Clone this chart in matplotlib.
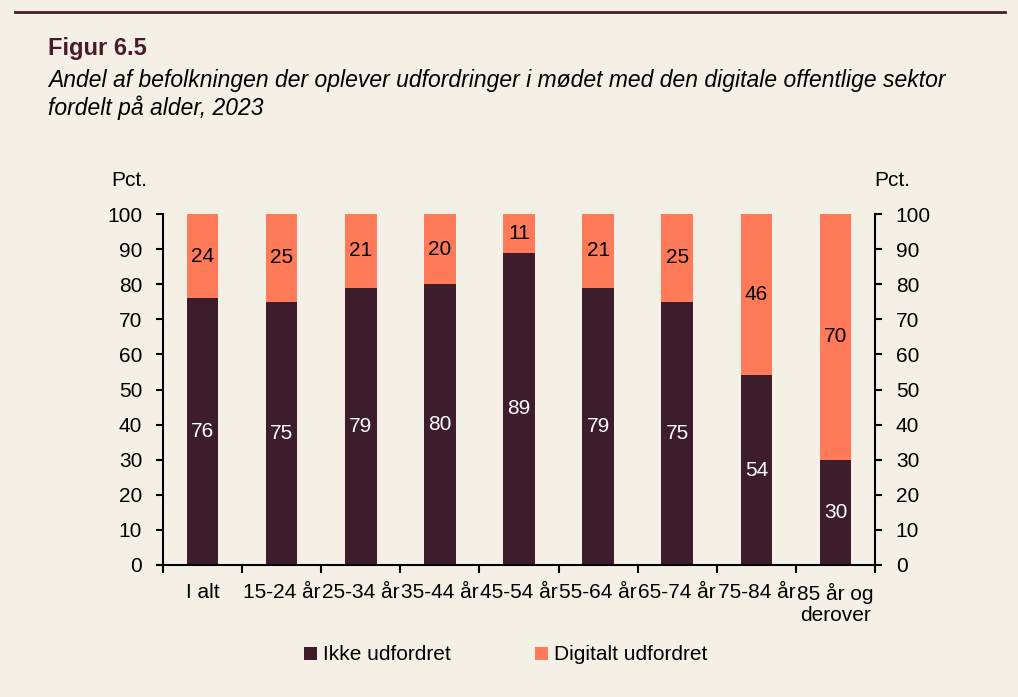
import numpy as np
import matplotlib.pyplot as plt

categories = ["I alt", "15-24 år", "25-34 år", "35-44 år", "45-54 år",
              "55-64 år", "65-74 år", "75-84 år", "85 år og\nderover"]
ikke = [76, 75, 79, 80, 89, 79, 75, 54, 30]
digital = [24, 25, 21, 20, 11, 21, 25, 46, 70]
yticks = [0, 10, 20, 30, 40, 50, 60, 70, 80, 90, 100]

BG = "#F4F0E6"
DARK = "#3D1C2B"
ORANGE = "#FF7A59"
MAROON = "#4A1A2C"

plt.rcParams['font.family'] = ['Liberation Sans', 'DejaVu Sans']
FS = 15

fig = plt.figure(figsize=(10.18, 6.97), dpi=100, facecolor=BG)
ax = fig.add_axes([163/1018, 1-565/697, (875-163)/1018, (565-214)/697])
ax.set_facecolor(BG)

x = np.arange(len(categories))
w = 0.4
ax.bar(x, ikke, w, color=DARK, label="Ikke udfordret")
ax.bar(x, digital, w, bottom=ikke, color=ORANGE, label="Digitalt udfordret")
for i in range(len(x)):
    ax.text(x[i], ikke[i] / 2, str(ikke[i]), ha='center', va='center',
            color='white', fontsize=FS)
    ax.text(x[i], ikke[i] + digital[i] / 2, str(digital[i]), ha='center',
            va='center', color='black', fontsize=FS)

ax.set_xlim(-0.5, len(categories) - 0.5)
ax.set_ylim(0, 100)
ax.set_yticks(yticks)
ax.tick_params(axis='y', labelsize=FS, length=5, width=1.5, direction='out',
               right=True, labelright=True, pad=10)
ax.set_xticks(x)
ax.set_xticklabels(categories, fontsize=FS, linespacing=1.15)
ax.tick_params(axis='x', length=0, pad=13)
ax.set_xticks(np.arange(len(categories) + 1) - 0.5, minor=True)
ax.tick_params(axis='x', which='minor', length=6, width=1.5, direction='out')
ax.spines['top'].set_visible(False)
for s in ['left', 'right', 'bottom']:
    ax.spines[s].set_linewidth(1.5)

fig.text(111/1018, 1-180/697, "Pct.", fontsize=FS, va='center')
fig.text(874/1018, 1-180/697, "Pct.", fontsize=FS, va='center')

fig.add_artist(plt.Line2D([15/1018, 1005/1018], [1-12/697, 1-12/697],
                          color=MAROON, lw=2))
fig.text(48/1018, 1-48/697, "Figur 6.5", fontsize=17, fontweight='bold',
         color=MAROON, va='center')
fig.text(48/1018, 1-81/697,
         "Andel af befolkningen der oplever udfordringer i mødet med den digitale offentlige sektor",
         fontsize=16.5, style='italic', va='center')
fig.text(48/1018, 1-108/697, "fordelt på alder, 2023", fontsize=16.5,
         style='italic', va='center')

fig.legend(loc='center', bbox_to_anchor=(506/1018, 1-655/697), ncol=2,
           frameon=False, fontsize=FS, handlelength=0.6, handleheight=0.6,
           handletextpad=0.3, columnspacing=4.05)

fig.savefig("out.png", dpi=100, facecolor=BG)
